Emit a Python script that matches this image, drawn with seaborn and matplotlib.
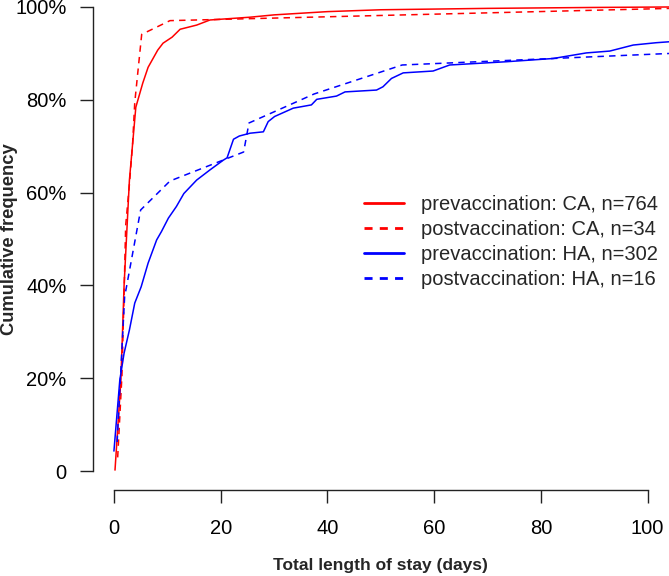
import pandas as pd
import seaborn as sns
import matplotlib.pyplot as plt
from matplotlib.lines import Line2D

# Cumulative frequency curves (days, percent)
ca_pre_days = [0.2, 1.3, 1.9, 2.9, 3.4, 4.1, 5.4, 6.4, 8.2, 9.2, 10.9, 12.4, 15.5, 18.0, 25.5, 30, 40, 50, 70, 90, 104]
ca_pre_pct = [0.2, 19.6, 40.0, 62.7, 69.2, 78.4, 83.6, 87.0, 90.7, 92.2, 93.5, 95.2, 96.1, 97.2, 97.8, 98.3, 99.0, 99.4, 99.7, 99.9, 100]

ca_post_days = [0.7, 1.5, 1.9, 2.2, 2.9, 3.5, 3.9, 5.2, 10.5, 115]
ca_post_pct = [2.94, 20.6, 38.2, 52.9, 61.8, 70.6, 79.4, 94.1, 97.06, 100]

ha_pre_days = [0, 1.1, 1.9, 2.9, 3.9, 5.1, 6.4, 8.0, 8.9, 10.2, 11.7, 13.1, 15.5, 18.0, 20.5, 21.2, 22.4, 23.5,
               25.5, 28.0, 28.9, 30.1, 33.6, 37.0, 38.0, 41.7, 43.3, 49.2, 50.4, 52.0, 54.2, 59.8, 62.9, 73.5,
               82.3, 88.5, 92.9, 97.3, 101.6, 104]
ha_pre_pct = [4.3, 19.6, 25.4, 30.4, 36.2, 39.7, 44.8, 49.8, 51.6, 54.5, 57.0, 59.8, 62.7, 64.9, 67.0, 67.5, 71.5, 72.2,
              72.8, 73.1, 75.3, 76.4, 78.2, 78.9, 80.1, 80.8, 81.7, 82.1, 82.8, 84.6, 85.8, 86.2, 87.5, 88.2,
              88.9, 90.1, 90.5, 91.8, 92.3, 92.5]

ha_post_days = [0.6, 2.0, 5.0, 10.5, 24.3, 25.3, 37.5, 54.0, 180]
ha_post_pct = [6.25, 37.5, 56.25, 62.5, 68.75, 75.0, 81.25, 87.5, 93.75]

labels = ["prevaccination: CA, n=764", "postvaccination: CA, n=34",
          "prevaccination: HA, n=302", "postvaccination: HA, n=16"]
colors = ["#ff0000", "#ff0000", "#0000ff", "#0000ff"]
dashed = [False, True, False, True]

series = [(ca_pre_days, ca_pre_pct), (ca_post_days, ca_post_pct),
          (ha_pre_days, ha_pre_pct), (ha_post_days, ha_post_pct)]

sns.set_style("white")
plt.rcParams['font.family'] = ['Liberation Sans', 'DejaVu Sans']

fig = plt.figure(figsize=(6.69, 5.76), dpi=100)
ax = fig.add_axes([0.1384, 0.15, 0.8616, 0.8701])

for (d, p), lab, col, dsh in zip(series, labels, colors, dashed):
    df = pd.DataFrame({"days": d, "pct": p})
    sns.lineplot(data=df, x="days", y="pct", ax=ax, color=col, lw=1.1,
                 estimator=None, sort=False, legend=False)
    if dsh:
        ax.lines[-1].set_dashes((4.2, 3.4))

ax.set_xlim(-4, 104)
ax.set_ylim(-4, 104)
ax.set_xticks([0, 20, 40, 60, 80, 100])
ax.set_yticks([0, 20, 40, 60, 80, 100])
ax.set_yticklabels(["0", "20%", "40%", "60%", "80%", "100%"])

for s in ["top", "right"]:
    ax.spines[s].set_visible(False)
ax.spines["left"].set_bounds(0, 100)
ax.spines["bottom"].set_bounds(0, 100)
for s in ["left", "bottom"]:
    ax.spines[s].set_color("#222222")
    ax.spines[s].set_linewidth(1.0)

ax.tick_params(axis="both", direction="out", length=9.4, width=1.0, color="#222222",
               labelsize=14.5, labelcolor="black", left=True, bottom=True)
ax.tick_params(axis="y", pad=9.4)
ax.tick_params(axis="x", pad=12)

ax.set_xlabel("Total length of stay (days)", fontsize=12.5, fontweight="bold", va="center")
ax.xaxis.set_label_coords(0.5, -0.152)
ax.set_ylabel("Cumulative frequency", fontsize=13.2, fontweight="bold", va="center")
ax.yaxis.set_label_coords(-0.145, 0.5)

handles = []
for col, dsh in zip(colors, dashed):
    h = Line2D([0], [0], color=col, lw=2.0)
    if dsh:
        h.set_dashes((2.9, 2.6))
    handles.append(h)

ax.legend(handles, labels, loc="upper left", frameon=False, fontsize=14.5,
          bbox_to_anchor=(364 / 669, 1 - 195 / 576), bbox_transform=fig.transFigure,
          borderpad=0, borderaxespad=0, handlelength=2.0, handletextpad=0.85,
          labelspacing=0.3)

fig.savefig("out.png", dpi=100)
